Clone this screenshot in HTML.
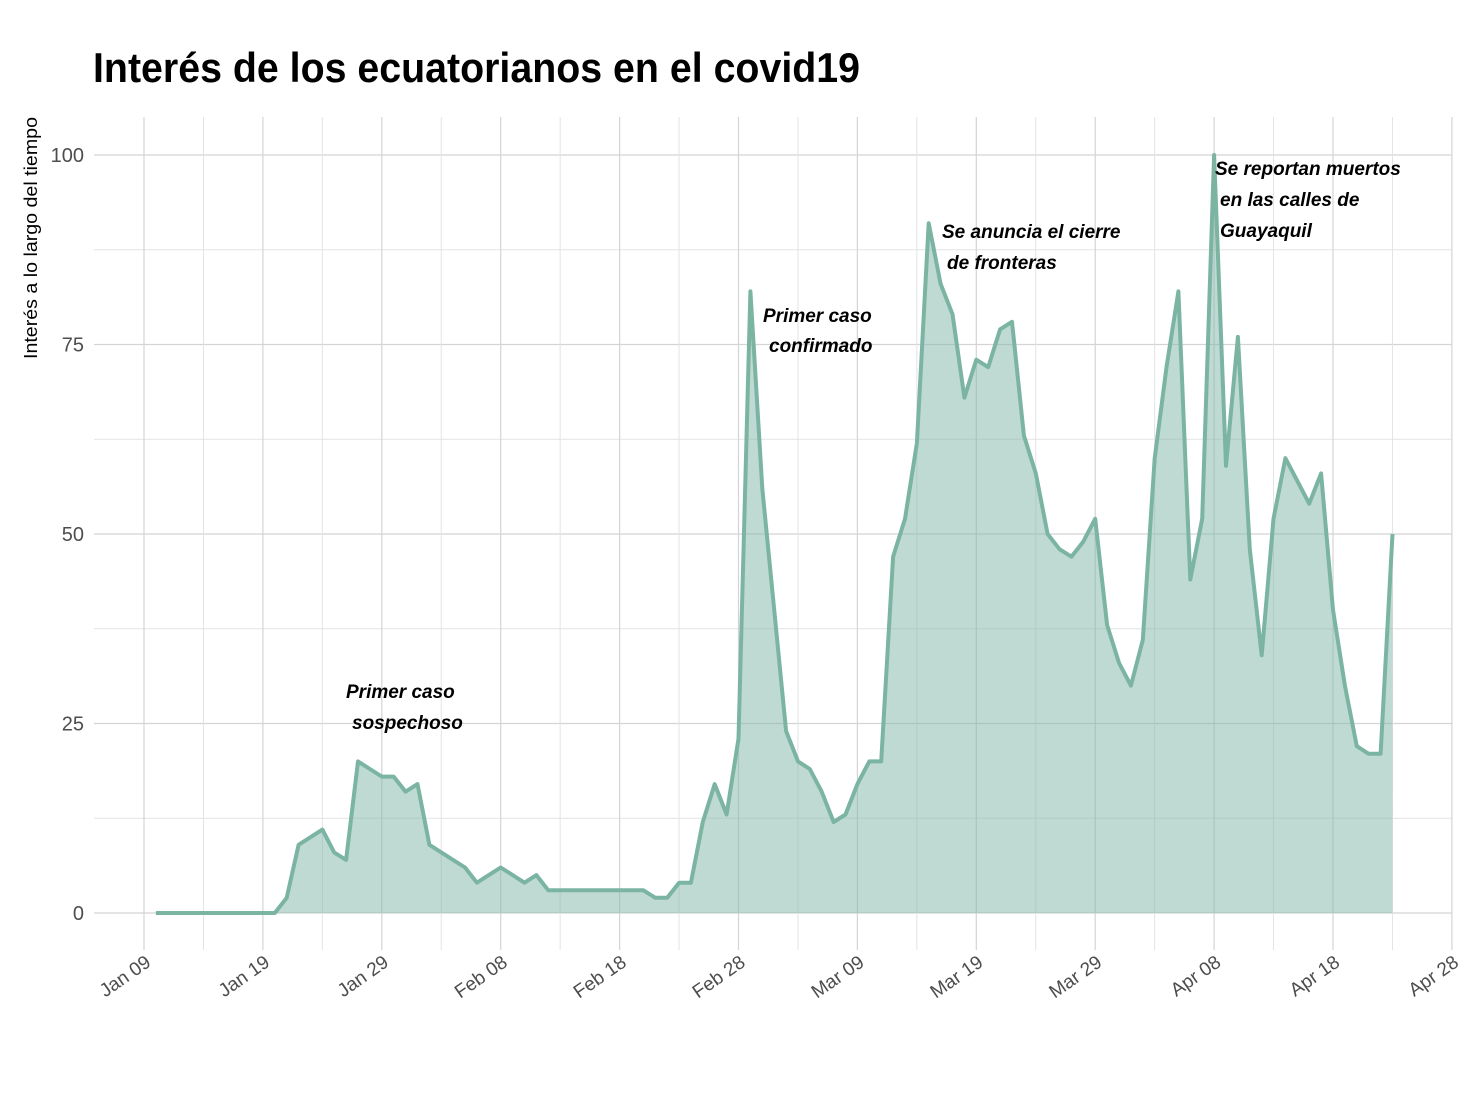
<!DOCTYPE html>
<html><head><meta charset="utf-8"><style>
html,body{margin:0;padding:0;background:#fff;}
svg text{font-family:"Liberation Sans Narrow","Liberation Sans",sans-serif;}
</style></head><body>
<svg id="chart" width="1472" height="1094" xmlns="http://www.w3.org/2000/svg">
<text x="93" y="82" font-size="42" font-weight="bold" fill="#000" textLength="767" lengthAdjust="spacingAndGlyphs">Interés de los ecuatorianos en el covid19</text>
<text transform="translate(37,238) rotate(-90)" text-anchor="middle" font-size="18" fill="#000" textLength="242" lengthAdjust="spacingAndGlyphs">Interés a lo largo del tiempo</text>
<g id="grid"></g>
<g id="marks"></g>
<g id="axes"></g>
<g font-size="19" font-style="italic" font-weight="bold" fill="#000">
<text x="346" y="698" style="font-family:'Liberation Sans',sans-serif">Primer caso</text>
<text x="352" y="729" style="font-family:'Liberation Sans',sans-serif">sospechoso</text>
<text x="763" y="322" style="font-family:'Liberation Sans',sans-serif">Primer caso</text>
<text x="769" y="352" style="font-family:'Liberation Sans',sans-serif">confirmado</text>
<text x="942" y="238" style="font-family:'Liberation Sans',sans-serif">Se anuncia el cierre</text>
<text x="947" y="269" style="font-family:'Liberation Sans',sans-serif">de fronteras</text>
<text x="1215" y="175" style="font-family:'Liberation Sans',sans-serif">Se reportan muertos</text>
<text x="1220" y="206" style="font-family:'Liberation Sans',sans-serif">en las calles de</text>
<text x="1220" y="237" style="font-family:'Liberation Sans',sans-serif">Guayaquil</text>
</g>
</svg>
<script>
// day offsets from Jan 09 2020
const startDay = 1;
const values = [0,0,0,0,0,0,0,0,0,0,0,2,9,10,11,8,7,20,19,18,18,16,17,9,8,7,6,4,5,6,5,4,5,3,3,3,3,3,3,3,3,3,2,2,4,4,12,17,13,23,82,56,40,24,20,19,16,12,13,17,20,20,47,52,62,91,83,79,68,73,72,77,78,63,58,50,48,47,49,52,38,33,30,36,60,72,82,44,52,100,59,76,48,34,52,60,57,54,58,40,30,22,21,21,50];
const xTickLabels = ["Jan 09","Jan 19","Jan 29","Feb 08","Feb 18","Feb 28","Mar 09","Mar 19","Mar 29","Apr 08","Apr 18","Apr 28"];
const yTicks = [0,25,50,75,100];

const NS="http://www.w3.org/2000/svg";
const x0=144, pxDay=11.89, y0=913, pxUnit=7.58;
const xs=d=>x0+d*pxDay;
const ys=v=>y0-v*pxUnit;
const plotL=94, plotR=1452, plotT=117, plotB=950;
function mk(tag,attrs,parent){const e=document.createElementNS(NS,tag);for(const k in attrs)e.setAttribute(k,attrs[k]);parent.appendChild(e);return e;}
const grid=document.getElementById('grid'), marks=document.getElementById('marks'), axes=document.getElementById('axes');
// minor horizontal
for(let i=0;i<yTicks.length;i++){
  const v=yTicks[i];
  if(i<yTicks.length-1){const m=(v+yTicks[i+1])/2;
    const l=mk('line',{x1:plotL,x2:plotR,y1:ys(m),y2:ys(m),stroke:'#e3e3e3','stroke-width':1},grid);
    
    }
  const l=mk('line',{x1:plotL,x2:plotR,y1:ys(v),y2:ys(v),stroke:'#d4d4d4','stroke-width':1.2},grid);
  
  
  const t=mk('text',{x:84,y:ys(v)+7,'text-anchor':'end','font-size':20,fill:'#4d4d4d'},axes);
  t.textContent=v;
  
  
}
for(let i=0;i<xTickLabels.length;i++){
  const d=i*10;
  if(i<xTickLabels.length-1){
    const l=mk('line',{x1:xs(d+5),x2:xs(d+5),y1:plotT,y2:plotB,stroke:'#e3e3e3','stroke-width':1},grid);
    
    }
  const l=mk('line',{x1:xs(d),x2:xs(d),y1:plotT,y2:plotB,stroke:'#d4d4d4','stroke-width':1.2},grid);
  
  
  const t=mk('text',{transform:`translate(${xs(d)+8},${965}) rotate(-35)`,'text-anchor':'end','font-size':19,fill:'#4d4d4d'},axes);
  t.textContent=xTickLabels[i];
  
  
}
let pts=values.map((v,i)=>[xs(startDay+i),ys(v)]);
let line=pts.map((p,i)=>(i?'L':'M')+p[0].toFixed(1)+','+p[1].toFixed(1)).join('');
const last=pts[pts.length-1][0], first=pts[0][0];
const area=mk('path',{d:line+`L${last},${ys(0)}L${first},${ys(0)}Z`,fill:'#7fb5a6','fill-opacity':0.5},marks);


const ln=mk('path',{d:line,fill:'none',stroke:'#7cb4a4','stroke-width':4,'stroke-linejoin':'round'},marks);


</script>
</body></html>
